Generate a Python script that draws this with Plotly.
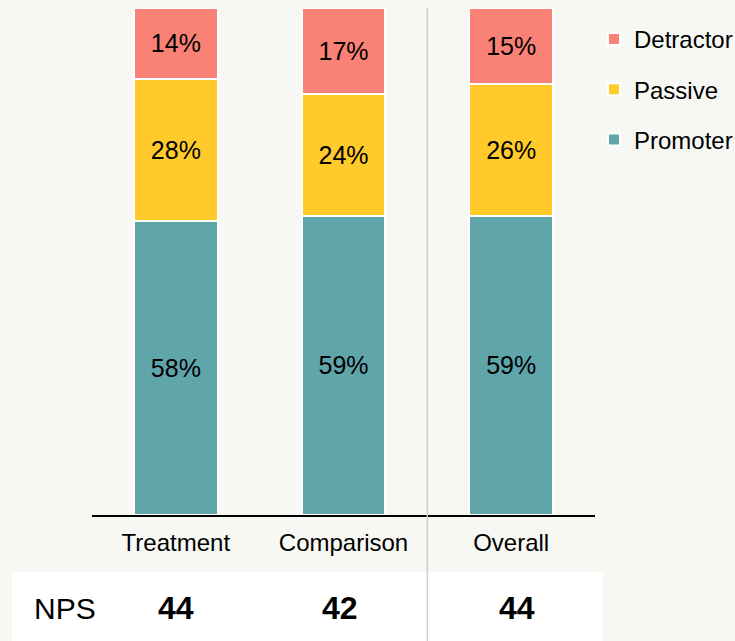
import plotly.graph_objects as go

categories = ["Treatment", "Comparison", "Overall"]
promoter = [58, 59, 59]
passive = [28, 24, 26]
detractor = [14, 17, 15]
nps = [44, 42, 44]

FONT = "Arial, Liberation Sans, sans-serif"
BG = "#f7f7f3"

fig = go.Figure()
series = [
    ("Promoter", promoter, "#5fa5aa", 3),
    ("Passive", passive, "#ffca2a", 2),
    ("Detractor", detractor, "#fa8175", 1),
]
for name, vals, col, rank in series:
    fig.add_trace(go.Bar(
        x=categories, y=vals, name=name, legendgroup=name, legendrank=rank,
        marker=dict(color=col, line=dict(color="white", width=2)),
        width=0.5,
        text=[f"{v}%" for v in vals],
        textposition="inside", insidetextanchor="middle", textangle=0,
        textfont=dict(family=FONT, size=25, color="black"),
        constraintext="none",
        hoverinfo="skip",
    ))

W, H = 735, 641
ml, mr, mt, mb = 92, 140, 8, 126
pw = W - ml - mr
ph = H - mt - mb

def px_x(x):
    return (x - ml) / pw

def px_y(y):
    return (H - mb - y) / ph

shapes = [
    dict(type="rect", xref="paper", yref="paper",
         x0=px_x(12), x1=px_x(603), y0=px_y(572), y1=px_y(660),
         fillcolor="white", line=dict(width=0), layer="below"),
    dict(type="line", xref="x", yref="paper", x0=1.5, x1=1.5,
         y0=1, y1=px_y(660), line=dict(color="#cfcfcf", width=1.5)),
]

annotations = [
    dict(text="NPS", xref="paper", yref="paper", x=px_x(65), y=px_y(608),
         showarrow=False, font=dict(family=FONT, size=30, color="black"),
         xanchor="center", yanchor="middle"),
]
shifts = [0, -4, 6]
for i, (c, v) in enumerate(zip(categories, nps)):
    annotations.append(dict(
        text=f"<b>{v}</b>", xref="x", yref="paper", x=c, y=px_y(608),
        xshift=shifts[i], showarrow=False,
        font=dict(family=FONT, size=32, color="black"),
        xanchor="center", yanchor="middle"))

fig.update_layout(
    width=W, height=H,
    margin=dict(l=ml, r=mr, t=mt, b=mb, autoexpand=False),
    barmode="stack",
    paper_bgcolor=BG, plot_bgcolor=BG,
    font=dict(family=FONT, size=24, color="black"),
    xaxis=dict(range=[-0.5, 2.5], showline=True, linecolor="black", linewidth=2,
               ticks="", showgrid=False, zeroline=False,
               tickfont=dict(family=FONT, size=24, color="black"),
               ticklabelstandoff=5, automargin=False),
    yaxis=dict(range=[0, 100], visible=False, showgrid=False, zeroline=False,
               automargin=False),
    legend=dict(x=px_x(594), xanchor="left", y=px_y(17), yanchor="top",
                traceorder="grouped", tracegroupgap=16,
                bgcolor="rgba(0,0,0,0)",
                font=dict(family=FONT, size=24, color="black")),
    shapes=shapes,
    annotations=annotations,
    showlegend=True,
)

fig.write_html(
    "out.html",
    config={"displayModeBar": False},
    post_script="document.body.style.margin='0';document.body.style.background='" + BG + "';document.body.style.overflow='hidden';",
)
